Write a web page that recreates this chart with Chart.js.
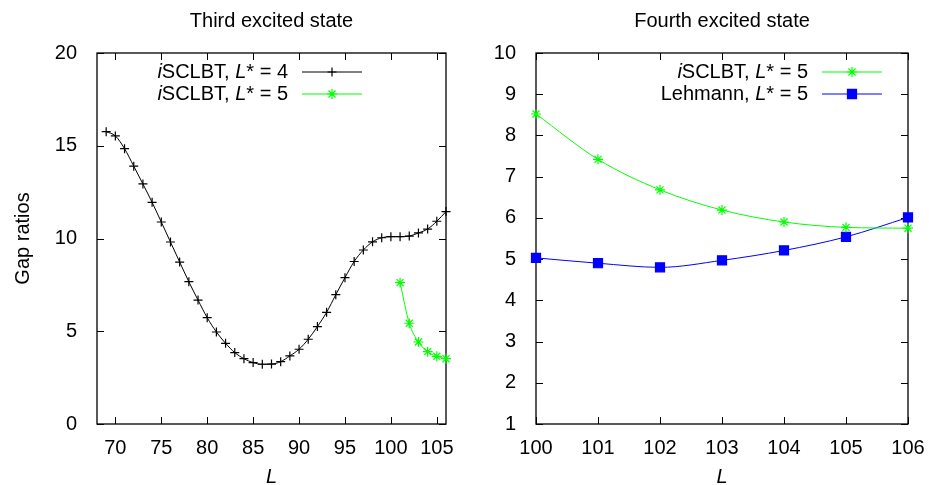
<!DOCTYPE html>
<html>
<head>
<meta charset="utf-8">
<title>Gap ratios</title>
<script src="https://cdn.jsdelivr.net/npm/chart.js@4.4.1/dist/chart.umd.min.js"></script>
<style>
  html, body { margin: 0; padding: 0; background: #fff; }
  #wrap { position: relative; width: 929px; height: 485px; }
  canvas { position: absolute; top: 0; }
  #left { left: 0; }
  #right { left: 470px; }
</style>
</head>
<body>
<div id="wrap">
  <canvas id="left" width="470" height="485"></canvas>
  <canvas id="right" width="459" height="485"></canvas>
</div>
<script>
// Third excited state
const thirdL = [69, 70, 71, 72, 73, 74, 75, 76, 77, 78, 79, 80, 81, 82, 83, 84, 85, 86, 87,
  88, 89, 90, 91, 92, 93, 94, 95, 96, 97, 98, 99, 100, 101, 102, 103, 104, 105, 106];
const thirdStar4 = [15.76, 15.53, 14.84, 13.90, 12.94, 11.95, 10.89, 9.81, 8.73, 7.67, 6.68,
  5.73, 4.96, 4.35, 3.85, 3.52, 3.31, 3.22, 3.23, 3.36, 3.67, 4.03, 4.57, 5.25, 6.02, 6.97,
  7.89, 8.76, 9.38, 9.82, 10.04, 10.10, 10.10, 10.13, 10.30, 10.51, 10.93, 11.45];
const thirdL5 = [101, 102, 103, 104, 105, 106];
const thirdStar5 = [7.62, 5.43, 4.42, 3.90, 3.65, 3.52];
const thirdXTicks = [70, 75, 80, 85, 90, 95, 100, 105];

// Fourth excited state
const fourthL = [100, 101, 102, 103, 104, 105, 106];
const fourthSclbt = [8.52, 7.42, 6.68, 6.19, 5.90, 5.77, 5.75];
const fourthLehmann = [5.03, 4.90, 4.80, 4.97, 5.21, 5.54, 6.01];

const FONT = 'Liberation Sans, Arial, Helvetica, sans-serif';
Chart.defaults.color = '#000';
Chart.defaults.font.family = FONT;
Chart.defaults.font.size = 20;

function pairs(xs, ys) {
  return xs.map((x, i) => ({ x: x, y: ys[i] }));
}

// italic "i" prefix and italic "L" before the star
function drawRich(ctx, text, xRight, y) {
  const parts = text.split(/(^i|L(?=\*))/).filter(s => s !== '');
  const fonts = parts.map(p => (p === 'i' || p === 'L' ? 'italic ' : '') + '20px ' + FONT);
  let total = 0;
  parts.forEach((p, i) => { ctx.font = fonts[i]; total += ctx.measureText(p).width; });
  let x = xRight - total;
  ctx.textBaseline = 'middle';
  ctx.textAlign = 'left';
  parts.forEach((p, i) => {
    ctx.font = fonts[i];
    ctx.fillText(p, x, y);
    x += ctx.measureText(p).width;
  });
}

const framePlugin = {
  id: 'frame',
  beforeDatasetsDraw(chart, args, opts) {
    const { ctx, chartArea: a } = chart;
    const xs = chart.scales.x, ys = chart.scales.y;
    ctx.save();
    ctx.strokeStyle = '#000';
    ctx.lineWidth = 1;
    const t = 7;
    ctx.beginPath();
    xs.ticks.forEach(tk => {
      const px = Math.round(xs.getPixelForValue(tk.value)) + 0.5;
      ctx.moveTo(px, a.bottom); ctx.lineTo(px, a.bottom - t);
      ctx.moveTo(px, a.top); ctx.lineTo(px, a.top + t);
    });
    ys.ticks.forEach(tk => {
      const py = Math.round(ys.getPixelForValue(tk.value)) + 0.5;
      ctx.moveTo(a.left, py); ctx.lineTo(a.left + t, py);
      ctx.moveTo(a.right, py); ctx.lineTo(a.right - t, py);
    });
    ctx.stroke();
    ctx.lineWidth = 1.3;
    ctx.strokeRect(a.left, a.top, a.right - a.left, a.bottom - a.top);
    ctx.restore();
  },
  afterDraw(chart, args, opts) {
    const { ctx, chartArea: a } = chart;
    ctx.save();
    ctx.fillStyle = '#000';
    ctx.font = '20px ' + FONT;
    ctx.textAlign = 'center';
    ctx.textBaseline = 'middle';
    ctx.fillText(opts.title, (a.left + a.right) / 2, 21);

    chart.data.datasets.forEach((ds, i) => {
      const y = opts.rowY[i];
      drawRich(ctx, ds.label, a.right - opts.textRight, y);
      const x1 = a.right - opts.lineFrom, x2 = a.right - opts.lineTo;
      ctx.strokeStyle = ds.borderColor;
      ctx.lineWidth = 1.2;
      ctx.beginPath();
      ctx.moveTo(x1, y); ctx.lineTo(x2, y);
      ctx.stroke();
      ctx.fillStyle = ds.pointBackgroundColor;
      ctx.strokeStyle = ds.borderColor;
      ctx.lineWidth = 1.2;
      Chart.helpers.drawPoint(ctx, {
        pointStyle: ds.pointStyle, radius: ds.pointRadius, rotation: 0, borderWidth: 1.2
      }, (x1 + x2) / 2, y);
      ctx.fillStyle = '#000';
    });
    ctx.restore();
  }
};

function lineSet(label, data, color, style, radius, fill) {
  return {
    label: label,
    data: data,
    borderColor: color,
    backgroundColor: color,
    pointBackgroundColor: fill || color,
    pointBorderColor: color,
    borderWidth: 1,
    pointBorderWidth: 1.2,
    pointStyle: style,
    pointRadius: radius,
    cubicInterpolationMode: 'monotone',
    clip: false
  };
}

function axisOpts(min, max, step, width, title, titlePad, ticksList) {
  return {
    x: {
      type: 'linear', min: min.x, max: max.x,
      grid: { display: false },
      border: { display: false },
      afterFit: s => { s.height = 61; },
      afterBuildTicks: ticksList ? s => { s.ticks = ticksList.map(v => ({ value: v })); } : undefined,
      ticks: { stepSize: step.x, includeBounds: false, padding: 4, maxRotation: 0, autoSkip: false },
      title: { display: true, text: 'L', font: { size: 20, style: 'italic', lineHeight: 1 }, padding: { top: 0, bottom: -2 } }
    },
    y: {
      type: 'linear', min: min.y, max: max.y,
      grid: { display: false },
      border: { display: false },
      afterFit: s => { s.width = width; },
      ticks: { stepSize: step.y, includeBounds: false, padding: 12 },
      title: title ? { display: true, text: title, font: { size: 20 }, padding: { top: titlePad, bottom: 0 } } : { display: false }
    }
  };
}

new Chart(document.getElementById('left'), {
  type: 'line',
  data: {
    datasets: [
      lineSet('iSCLBT, L* = 4', pairs(thirdL, thirdStar4), '#000000', 'cross', 4.5),
      lineSet('iSCLBT, L* = 5', pairs(thirdL5, thirdStar5), '#00ff00', 'star', 5)
    ]
  },
  options: {
    responsive: false,
    animation: false,
    devicePixelRatio: 1,
    layout: { padding: { top: 53, right: 24, left: 0, bottom: 0 } },
    plugins: {
      legend: { display: false },
      tooltip: { enabled: false },
      frame: { title: 'Third excited state', rowY: [72, 94], textRight: 158, lineFrom: 144, lineTo: 84 }
    },
    scales: axisOpts({ x: 68, y: 0 }, { x: 106, y: 20 }, { x: 5, y: 5 }, 97, 'Gap ratios', 11, thirdXTicks)
  },
  plugins: [framePlugin]
});

new Chart(document.getElementById('right'), {
  type: 'line',
  data: {
    datasets: [
      lineSet('iSCLBT, L* = 5', pairs(fourthL, fourthSclbt), '#00ff00', 'star', 5),
      lineSet('Lehmann, L* = 5', pairs(fourthL, fourthLehmann), '#0000ff', 'rect', 6.4)
    ]
  },
  options: {
    responsive: false,
    animation: false,
    devicePixelRatio: 1,
    layout: { padding: { top: 53, right: 21, left: 0, bottom: 0 } },
    plugins: {
      legend: { display: false },
      tooltip: { enabled: false },
      frame: { title: 'Fourth excited state', rowY: [72, 94], textRight: 100, lineFrom: 86, lineTo: 26 }
    },
    scales: axisOpts({ x: 100, y: 1 }, { x: 106, y: 10 }, { x: 1, y: 1 }, 66, null, 0, null)
  },
  plugins: [framePlugin]
});
</script>
</body>
</html>
